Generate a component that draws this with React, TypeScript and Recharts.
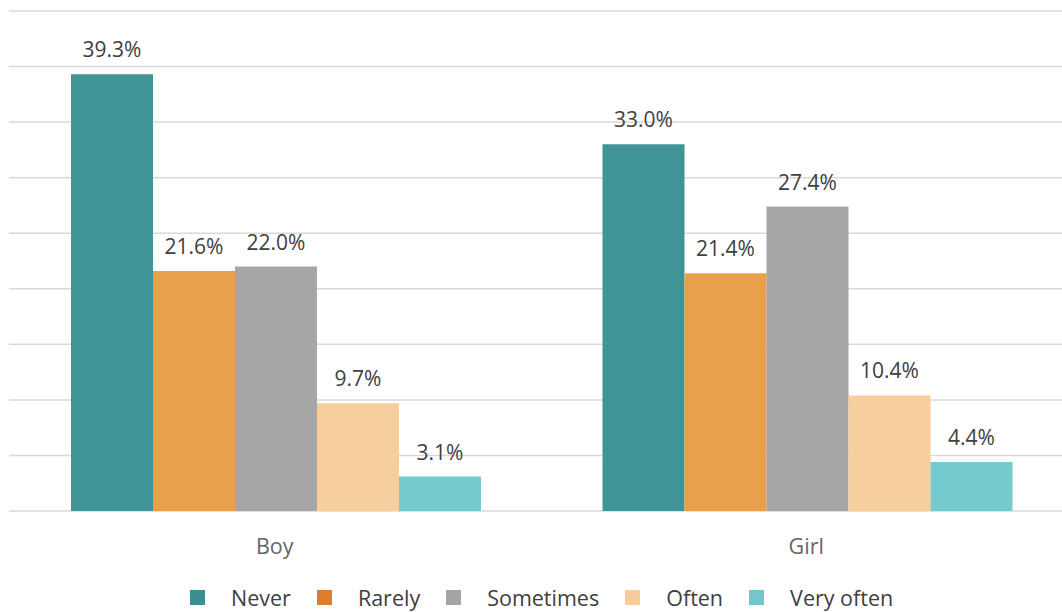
import React from "react";
import { BarChart, Bar, XAxis, YAxis, CartesianGrid, LabelList, Legend } from "recharts";

const categories = ["Boy", "Girl"];
const never = [39.3, 33.0];
const rarely = [21.6, 21.4];
const sometimes = [22.0, 27.4];
const often = [9.7, 10.4];
const veryOften = [3.1, 4.4];
const yTicks = [0, 5, 10, 15, 20, 25, 30, 35, 40, 45];

const seriesKeys = ["never", "rarely", "sometimes", "often", "veryOften"];
const seriesNames = ["Never", "Rarely", "Sometimes", "Often", "Very often"];
const barColors = ["#419495", "#E9A04D", "#A6A6A6", "#F7CE9D", "#76CACD"];
const legendColors = ["#3E8E8F", "#E07B2B", "#A5A5A5", "#F8CB9B", "#73C7CA"];

const data = categories.map((c, i) => ({
  name: c,
  never: never[i],
  rarely: rarely[i],
  sometimes: sometimes[i],
  often: often[i],
  veryOften: veryOften[i],
}));

const FONT = "'Open Sans', 'Noto Sans', sans-serif";

const fmt = (v: any) => `${Number(v).toFixed(1)}%`;

const CatTick = (props: any) => {
  const { x, y, payload } = props;
  return (
    <text x={x} y={y + 43} textAnchor="middle" fill="#666666" fontSize={21.5} fontFamily={FONT}>
      {payload.value}
    </text>
  );
};

const LegendContent = () => (
  <div
    style={{
      height: 30,
      display: "flex",
      alignItems: "center",
      paddingLeft: 181,
      fontFamily: FONT,
      fontSize: 21.5,
      color: "#404040",
      boxSizing: "border-box",
      whiteSpace: "nowrap",
    }}
  >
    {seriesNames.map((n, i) => (
      <div key={n} style={{ display: "flex", alignItems: "center", marginRight: 26 }}>
        <div style={{ width: 15, height: 15, background: legendColors[i], marginRight: 26 }} />
        <span>{n}</span>
      </div>
    ))}
  </div>
);

export default function App() {
  return (
    <div style={{ position: "absolute", left: 0, top: 0, width: 1062, height: 612, overflow: "hidden", background: "#fff" }}>
      <BarChart
        width={1072}
        height={612}
        data={data}
        margin={{ top: 11, right: 0, bottom: 0, left: 9 }}
        barCategoryGap={62}
        barGap={0}
      >
        <CartesianGrid vertical={false} stroke="#D9D9D9" strokeWidth={1.5} />
        <XAxis
          dataKey="name"
          axisLine={false}
          tickLine={false}
          tickSize={0}
          tickMargin={0}
          height={71}
          tick={<CatTick />}
        />
        <YAxis hide domain={[0, 45]} ticks={yTicks} width={0} />
        <Legend verticalAlign="bottom" height={30} content={<LegendContent />} />
        {seriesKeys.map((k, i) => (
          <Bar key={k} dataKey={k} name={seriesNames[i]} fill={barColors[i]} isAnimationActive={false}>
            <LabelList
              dataKey={k}
              position="top"
              offset={17}
              formatter={fmt}
              fill="#404040"
              fontSize={21}
              fontFamily={FONT}
            />
          </Bar>
        ))}
      </BarChart>
    </div>
  );
}
